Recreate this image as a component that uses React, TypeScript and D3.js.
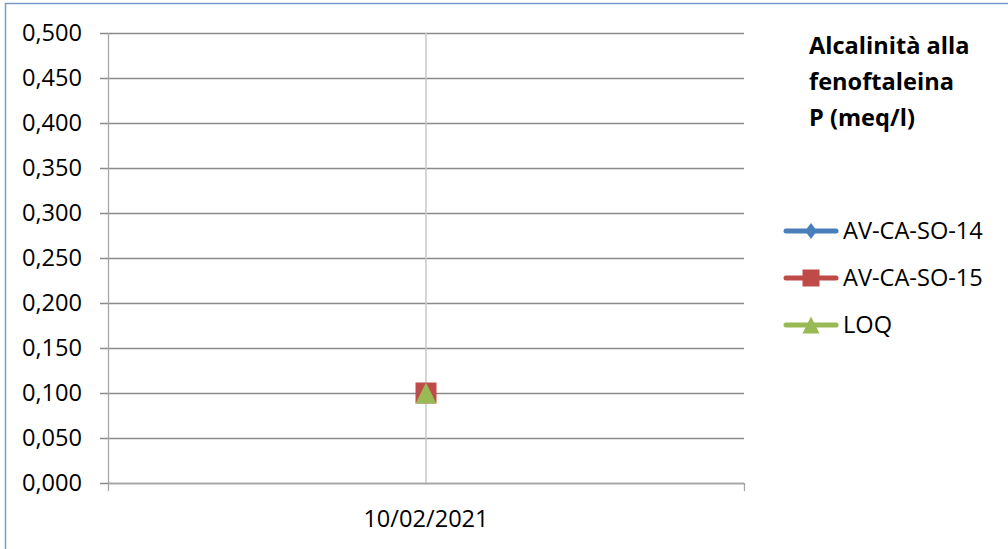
import React from "react";
import * as d3 from "d3";

const categories = ["10/02/2021"];
const seriesNames = ["AV-CA-SO-14", "AV-CA-SO-15", "LOQ"];
const seriesColors = ["#4A7EBB", "#BE4B48", "#98B954"];
const seriesShapes = ["diamond", "square", "triangle"];
const av14 = [0.1];
const av15 = [0.1];
const loq = [0.1];
const yTicks = [0, 0.05, 0.1, 0.15, 0.2, 0.25, 0.3, 0.35, 0.4, 0.45, 0.5];
const titleLines = ["Alcalinità alla", "fenoftaleina", "P (meq/l)"];

const W = 1008, H = 549;
const plot = { left: 108, right: 744, top: 33, bottom: 483 };
const FONT = "'Open Sans', 'Liberation Sans', sans-serif";
const FS = 23.6;

function markerPath(shape: string, s: number) {
  const p = d3.path();
  const h = s / 2;
  if (shape === "diamond") {
    const w = h * 0.75;
    p.moveTo(0, -h); p.lineTo(w, 0); p.lineTo(0, h); p.lineTo(-w, 0); p.closePath();
  } else if (shape === "square") {
    p.rect(-h, -h, s, s);
  } else {
    p.moveTo(0, -h); p.lineTo(h, h); p.lineTo(-h, h); p.closePath();
  }
  return p.toString();
}

function marker(shape: string, cx: number, cy: number, color: string, size: number, key: string) {
  return <path key={key} d={markerPath(shape, size)} transform={`translate(${cx},${cy})`} fill={color} />;
}

export default function App() {
  const y = d3.scaleLinear().domain([0, 0.5]).range([plot.bottom, plot.top]);
  const x = d3.scaleBand().domain(categories).range([plot.left, plot.right]);
  const fmt = (v: number) => d3.format(".3f")(v).replace(".", ",");
  const data = [av14, av15, loq];
  return (
    <svg width={W} height={H} style={{ position: "absolute", left: 0, top: 0 }}>
      <rect x={0} y={0} width={W} height={H} fill="#fff" />
      <rect x={5.5} y={3.5} width={1010} height={560} fill="#fff" stroke="#7A9CCD" strokeWidth={1.5} />
      {yTicks.map((t, i) => (
        <g key={"g" + i}>
          <line x1={plot.left - 8} x2={plot.right} y1={Math.round(y(t)) + 0.5} y2={Math.round(y(t)) + 0.5} stroke="#8A8A8A" strokeWidth={1.3} />
          <text x={82} y={y(t)} dy="0.36em" textAnchor="end" fontFamily={FONT} fontSize={FS} fill="#000">{fmt(t)}</text>
        </g>
      ))}
      {categories.map((c) => (
        <line key={"v" + c} x1={x(c)! + x.bandwidth() / 2} x2={x(c)! + x.bandwidth() / 2} y1={plot.top} y2={plot.bottom} stroke="#C8C8C8" strokeWidth={1.5} />
      ))}
      <line x1={plot.left + 0.5} x2={plot.left + 0.5} y1={plot.top} y2={plot.bottom + 8} stroke="#A6A6A6" strokeWidth={1.3} />
      <line x1={plot.right + 0.5} x2={plot.right + 0.5} y1={plot.bottom} y2={plot.bottom + 8} stroke="#A6A6A6" strokeWidth={1.3} />
      <line x1={plot.left} x2={plot.right} y1={plot.bottom + 0.5} y2={plot.bottom + 0.5} stroke="#A6A6A6" strokeWidth={1.3} />
      {categories.map((c) => (
        <text key={"xl" + c} x={x(c)! + x.bandwidth() / 2} y={519} dy="0.36em" textAnchor="middle" fontFamily={FONT} fontSize={FS} fill="#000">{c}</text>
      ))}
      {data.map((vals, si) =>
        vals.map((v, i) => marker(seriesShapes[si], x(categories[i])! + x.bandwidth() / 2, y(v), seriesColors[si], 21, `m${si}-${i}`))
      )}
      {titleLines.map((l, i) => (
        <text key={"t" + i} x={809} y={54 + i * 36} fontFamily={FONT} fontWeight="bold" fontSize={FS} fill="#000">{l}</text>
      ))}
      {seriesNames.map((n, i) => {
        const ly = 231 + i * 47;
        return (
          <g key={"l" + i}>
            <line x1={786} x2={836} y1={ly} y2={ly} stroke={seriesColors[i]} strokeWidth={5} strokeLinecap="round" />
            {marker(seriesShapes[i], 811, ly, seriesColors[i], i === 0 ? 16 : 17, "lm" + i)}
            <text x={843} y={ly} dy="0.36em" fontFamily={FONT} fontSize={FS} fill="#000">{n}</text>
          </g>
        );
      })}
    </svg>
  );
}
